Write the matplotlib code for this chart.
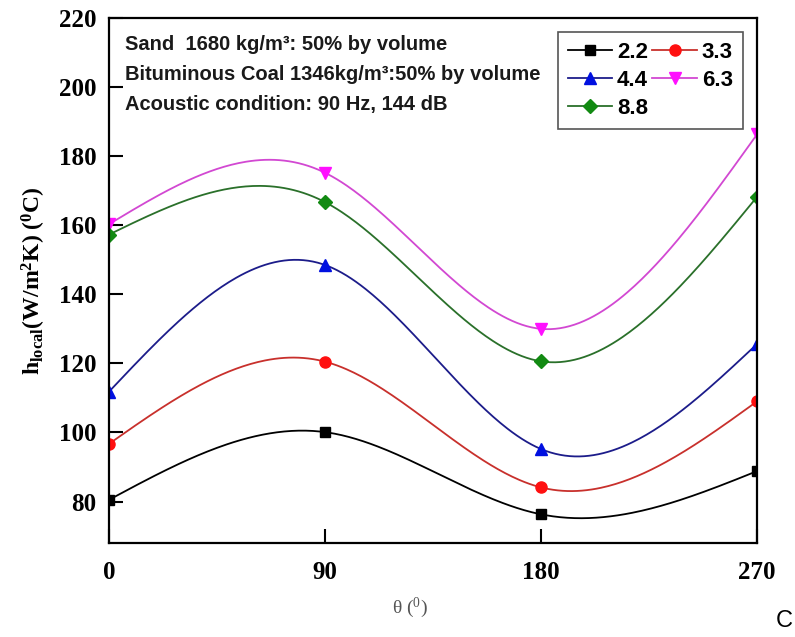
import numpy as np
import matplotlib
matplotlib.use('Agg')
import matplotlib.pyplot as plt

# angle positions and measured h_local values
theta = [0, 90, 180, 270]
labels = ['2.2', '3.3', '4.4', '6.3', '8.8']
h_22 = [80.5, 100.1, 76.3, 88.8]
h_33 = [96.7, 120.5, 84.1, 109.0]
h_44 = [111.8, 148.5, 95.2, 125.6]
h_63 = [160.3, 175.2, 130.0, 186.3]
h_88 = [157.3, 166.7, 120.6, 168.2]

series = [h_22, h_33, h_44, h_63, h_88]
line_colors = ['#000000', '#c8302c', '#1c1c8a', '#d248d2', '#2a702a']
marker_colors = ['#000000', '#ff1010', '#0010e0', '#ff10ff', '#128a12']
markers = ['s', 'o', '^', 'v', 'D']
msizes = [7, 8, 8, 8, 7]


def natural_spline(xs, ys, xf):
	# natural cubic spline through the measured points
	xs = np.asarray(xs, float)
	ys = np.asarray(ys, float)
	n = len(xs)
	h = np.diff(xs)
	A = np.zeros((n, n))
	r = np.zeros(n)
	A[0, 0] = 1
	A[-1, -1] = 1
	for i in range(1, n - 1):
		A[i, i - 1] = h[i - 1]
		A[i, i] = 2 * (h[i - 1] + h[i])
		A[i, i + 1] = h[i]
		r[i] = 6 * ((ys[i + 1] - ys[i]) / h[i] - (ys[i] - ys[i - 1]) / h[i - 1])
	M = np.linalg.solve(A, r)
	out = np.zeros_like(xf)
	for k, x in enumerate(xf):
		i = min(np.searchsorted(xs, x, side='right') - 1, n - 2)
		t1 = xs[i + 1] - x
		t0 = x - xs[i]
		out[k] = (M[i] * t1 ** 3 + M[i + 1] * t0 ** 3) / (6 * h[i]) \
			+ (ys[i] / h[i] - M[i] * h[i] / 6) * t1 \
			+ (ys[i + 1] / h[i] - M[i + 1] * h[i] / 6) * t0
	return out


fig = plt.figure(figsize=(7.95, 6.37), dpi=100)
ax = fig.add_axes([0.1371, 0.1476, 0.8151, 0.8241])

xf = np.linspace(0, 270, 271)
handles = []
for ys, lc, mc, m, ms, lab in zip(series, line_colors, marker_colors, markers, msizes, labels):
	yf = natural_spline(theta, ys, xf)
	ln, = ax.plot(xf, yf, color=lc, lw=1.3, marker=m, markevery=[0, 90, 180, 270],
		markersize=ms, markerfacecolor=mc, markeredgecolor=mc, label=lab)
	handles.append(ln)

ax.set_xlim(0, 270)
ax.set_ylim(68, 220)
ax.set_xticks([0, 90, 180, 270])
ax.set_yticks(np.arange(80, 221, 20))

serif = 'Liberation Serif'
for lab in ax.get_xticklabels() + ax.get_yticklabels():
	lab.set_fontfamily(serif)
	lab.set_fontweight('bold')
	lab.set_fontsize(18)

ax.tick_params(axis='y', direction='in', length=10, width=1.5, pad=9)
ax.tick_params(axis='x', direction='in', length=10, width=1.5, pad=13)
for s in ax.spines.values():
	s.set_linewidth(1.6)

ax.set_ylabel(r'h$\mathregular{_{local}}$(W/m$\mathregular{^2}$K) ($\mathregular{^0}$C)',
	fontfamily=serif, fontweight='bold', fontsize=17, labelpad=8)
ax.set_xlabel(r'θ ($\mathregular{^0}$)', fontfamily=serif, fontsize=14, color='#555555')
ax.xaxis.set_label_coords(0.464, -0.10)

notes = ['Sand  1680 kg/m³: 50% by volume',
	'Bituminous Coal 1346kg/m³:50% by volume',
	'Acoustic condition: 90 Hz, 144 dB']
for txt, yy in zip(notes, [0.949, 0.893, 0.836]):
	ax.text(0.025, yy, txt, transform=ax.transAxes, fontfamily='Liberation Sans',
		fontweight='bold', fontsize=14.5, color='#1a1a1a', va='center')

order = [0, 2, 4, 1, 3]
leg = ax.legend([handles[i] for i in order], [labels[i] for i in order], ncol=2,
	loc='upper right', bbox_to_anchor=(0.978, 0.973), borderaxespad=0,
	prop={'family': 'Liberation Sans', 'weight': 'bold', 'size': 16},
	handlelength=2.0, handletextpad=0.22, columnspacing=0.2, labelspacing=0.3,
	fancybox=False, framealpha=1, edgecolor='#555555', borderpad=0.45)
leg.get_frame().set_linewidth(1.2)

fig.text(0.997, 0.008, 'C', fontfamily='Liberation Sans', fontsize=17, ha='right', va='bottom')

fig.savefig('out.png', dpi=100)
